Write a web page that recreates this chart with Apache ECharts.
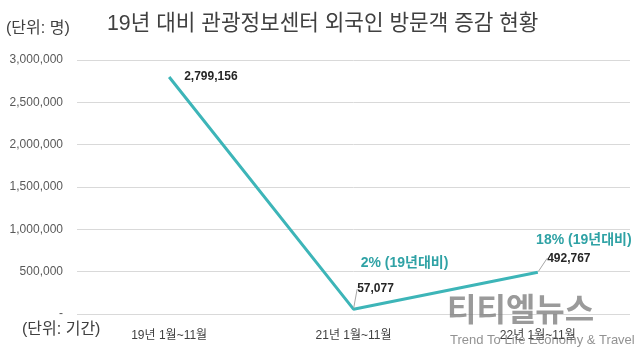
<!DOCTYPE html>
<html>
<head>
<meta charset="utf-8">
<script src="https://cdn.jsdelivr.net/npm/echarts@6/dist/echarts.min.js"></script>
<style>
  html, body { margin: 0; padding: 0; background: #fff; }
  #chart { width: 640px; height: 349px; }
</style>
</head>
<body>
<div id="chart"></div>
<script>
// Visitor counts per period
const categories = ['19년 1월~11월', '21년 1월~11월', '22년 1월~11월'];
const visitors = [2799156, 57077, 492767];
// Share of 2019 level, shown for the later periods
const ratioLabels = ['', '2% (19년대비)', '18% (19년대비)'];
const yTicks = { min: 0, max: 3000000, interval: 500000 };

const FONT = "'Liberation Sans', 'Noto Sans CJK KR', sans-serif";
const TEAL = '#3db5b8';
const TEAL_TEXT = '#2fa2a5';

// Value label placement per point (pixels); moved labels get a leader line
const valueLabelStyle = [
  { position: 'right', dx: 6, dy: 0, line: false },
  { position: 'top', dx: 22, dy: -5, line: true },
  { position: 'top', dx: 31, dy: 1, line: true }
];
// Offsets of the ratio annotations from their points
const ratioOffsets = [[0, 0], [51, -46], [46, -32]];

const chart = echarts.init(document.getElementById('chart'), null, { renderer: 'canvas' });

chart.setOption({
  animation: false,
  textStyle: { fontFamily: FONT },
  grid: { left: 77, right: 10, top: 60, bottom: 35 },
  graphic: [
    { type: 'text', left: 6, top: 21, style: { text: '(단위: 명)', font: "16px " + FONT, fill: '#404040' } },
    { type: 'text', left: 107, top: 13, style: { text: '19년 대비 관광정보센터 외국인 방문객 증감 현황', font: "21.3px " + FONT, fill: '#404040' } },
    { type: 'text', left: 22, top: 322, style: { text: '(단위: 기간)', font: "16px " + FONT, fill: '#404040' } },
    { type: 'text', left: 447, top: 296, z: 100, style: { text: '티티엘뉴스', font: "bold 32px " + FONT, fill: 'rgba(120,120,120,0.75)' } },
    { type: 'text', left: 450, top: 334, z: 100, style: { text: 'Trend To Life Economy & Travel', font: "13px " + FONT, fill: 'rgba(110,110,110,0.75)' } }
  ],
  xAxis: {
    type: 'category',
    data: categories,
    boundaryGap: true,
    axisLine: { show: false },
    axisTick: { show: false },
    axisLabel: { color: '#404040', fontSize: 12, margin: 16, fontFamily: FONT }
  },
  yAxis: {
    type: 'value',
    min: yTicks.min,
    max: yTicks.max,
    interval: yTicks.interval,
    axisLine: { show: false },
    axisTick: { show: false },
    splitLine: { lineStyle: { color: '#d9d9d9', width: 1 } },
    axisLabel: {
      color: '#595959', fontSize: 12, margin: 14, fontFamily: FONT,
      formatter: v => v === 0 ? '-' : v.toLocaleString('en-US')
    }
  },
  series: [{
    type: 'line',
    data: visitors.map((v, i) => ({
      value: v,
      label: { position: valueLabelStyle[i].position },
      labelLine: { show: valueLabelStyle[i].line }
    })),
    symbol: 'circle',
    symbolSize: 2,
    showSymbol: true,
    itemStyle: { color: 'rgba(0,0,0,0)' },
    lineStyle: { color: TEAL, width: 3 },
    label: {
      show: true,
      distance: 8,
      color: '#262626',
      fontSize: 12,
      fontWeight: 'bold',
      fontFamily: FONT,
      formatter: p => p.value.toLocaleString('en-US')
    },
    labelLine: { show: true, lineStyle: { color: '#a6a6a6', width: 1 } },
    labelLayout: p => ({ dx: valueLabelStyle[p.dataIndex].dx, dy: valueLabelStyle[p.dataIndex].dy }),
    markPoint: {
      symbol: 'circle',
      symbolSize: 0,
      itemStyle: { color: 'rgba(0,0,0,0)' },
      data: visitors
        .map((v, i) => ({
          coord: [i, v],
          value: ratioLabels[i],
          label: { offset: ratioOffsets[i] }
        }))
        .filter(d => d.value),
      label: {
        show: true,
        position: 'inside',
        color: TEAL_TEXT,
        fontSize: 14,
        fontWeight: 'bold',
        fontFamily: FONT,
        formatter: p => p.value
      }
    }
  }]
});
</script>
</body>
</html>
